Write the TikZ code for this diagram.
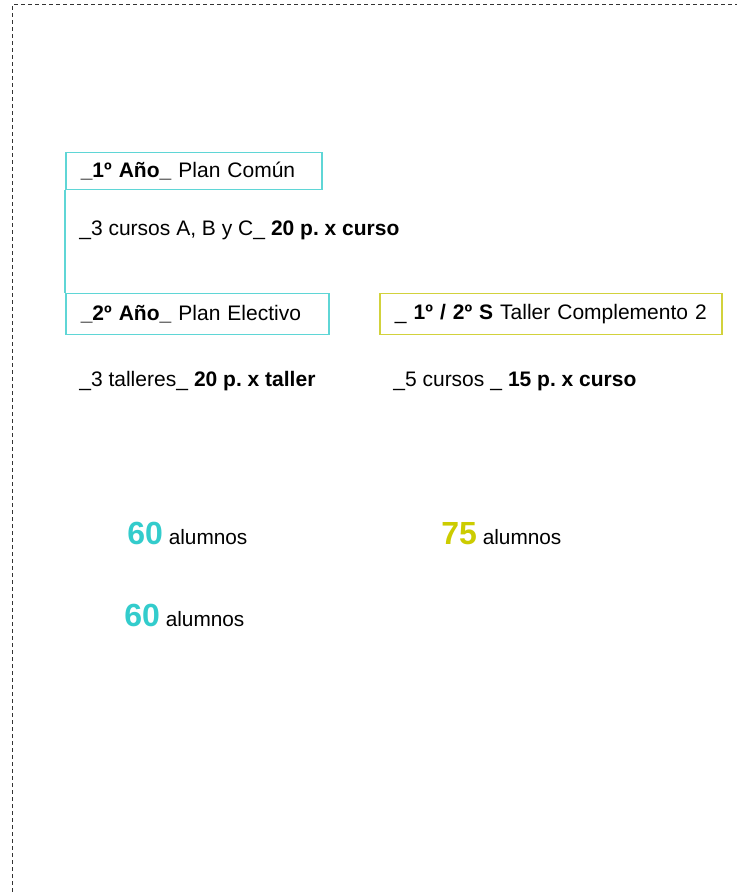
\documentclass[tikz,border=0pt]{standalone}
\usepackage{fontspec}
\setmainfont{Liberation Sans}
\usepackage{tikz}
\usetikzlibrary{positioning}
\definecolor{plancyan}{HTML}{33CCCC}
\definecolor{plancyanline}{HTML}{5FD6D6}
\definecolor{tallergold}{HTML}{CCCC00}
\definecolor{tallerline}{HTML}{D2D23C}
\definecolor{framegray}{HTML}{333333}
\frenchspacing

\begin{document}
\begin{tikzpicture}[x=0.5pt, y=-0.5pt,
    every node/.style={font=\fontsize{10.5}{12}\selectfont, inner sep=0pt},
    planbox/.style={draw=#1, line width=0.75pt, anchor=north west,
          minimum height=20.5pt, inner xsep=7.5pt, align=left},
    plantext/.style={anchor=west},
    total/.style={anchor=base west, font=\fontsize{10.4}{12}\selectfont}]
    \useasboundingbox (0,0) rectangle (737,892);
    % marco punteado
    \draw[framegray, line width=0.5pt, dash pattern=on 2pt off 1.5pt]
          (12,892) -- (12,5) -- (737,5);
    % primer año
    \node[planbox=plancyanline, minimum height=18.5pt, text width=113pt] (anio1) at (65,152)
          {\mbox{\textbf{\_1º Año\_} Plan Común}};
    \node[plantext] (cursos1) at (79,230) {\_3 cursos A, B y C\_ \textbf{20 p. x curso}};
    % segundo año
    \node[planbox=plancyanline, text width=116.5pt] (anio2) at (65,293)
          {\mbox{\textbf{\_2º Año\_} Plan Electivo}};
    \draw[plancyanline, line width=0.75pt] (anio1.south west) -- (anio2.north west);
    \node[plantext] (talleres2) at (79,381) {\_3 talleres\_ \textbf{20 p. x taller}};
    % taller complemento
    \node[planbox=tallerline, text width=156pt, inner xsep=7.5pt] (taller) at (379,293)
          {\mbox{\_ \textbf{1º / 2º S} Taller Complemento 2}};
    \node[plantext] (cursos5) at (393,381) {\_5 cursos \_ \textbf{15 p. x curso}};
    % totales
    \node[total] (total1) at (127,544)
          {{\fontsize{16}{18}\selectfont\bfseries\color{plancyan}60} alumnos};
    \node[total] (total3) at (441,544)
          {{\fontsize{16}{18}\selectfont\bfseries\color{tallergold}75} alumnos};
    \node[total] (total2) at (124,626)
          {{\fontsize{16}{18}\selectfont\bfseries\color{plancyan}60} alumnos};
\end{tikzpicture}
\end{document}
